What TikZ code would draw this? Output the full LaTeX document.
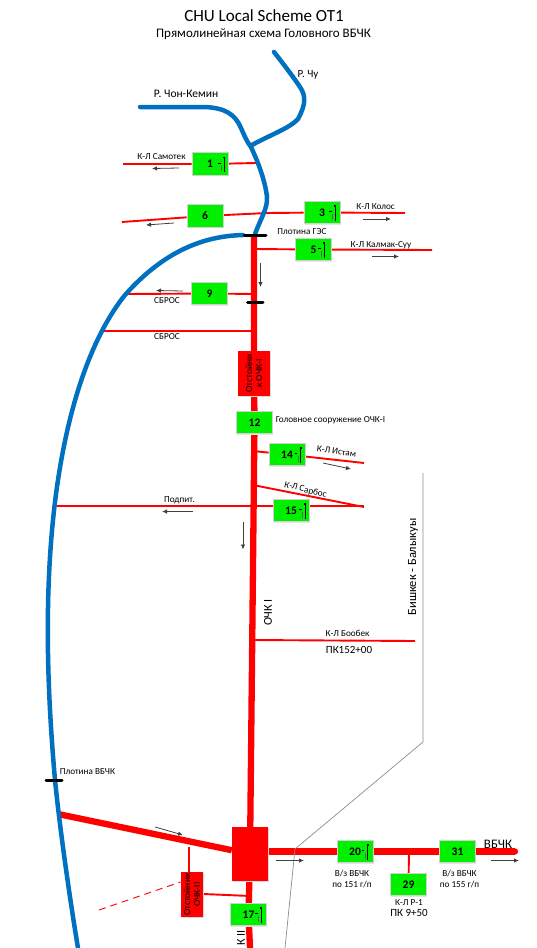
\documentclass[tikz,border=0pt]{standalone}
\usepackage{fontspec}
\setmainfont{Carlito}
\usetikzlibrary{arrows.meta,shadows}
\definecolor{rivblue}{HTML}{0070C0}
\definecolor{arrgrey}{HTML}{404040}
\definecolor{boxgreen}{HTML}{00F000}
\pgfdeclarelayer{bg}
\pgfsetlayers{bg,main}
\tikzset{
  gatebox/.style={draw=black!18,line width=.7pt,fill=boxgreen,minimum width=36pt,minimum height=22.5pt,inner sep=0pt,font=\fontsize{11.5}{12}\selectfont\bfseries,drop shadow={shadow xshift=.8pt,shadow yshift=-.8pt,fill=black!10,opacity=1}},
  redbox/.style={fill=red,inner sep=0pt,drop shadow={shadow xshift=1.2pt,shadow yshift=-1.2pt,fill=black!15,opacity=1}},
  rottext/.style={rotate=90,align=center,font=\fontsize{9.5}{10}\selectfont},
  river/.style={draw=rivblue,line width=4.5pt,line cap=round,line join=round},
  canal/.style={draw=red,line width=1.9pt},
  maincanal/.style={draw=red,line width=6.3pt},
  flowarrow/.style={draw=arrgrey,line width=.8pt,-{Latex[length=5pt,width=4.5pt]}},
  dambar/.style={draw=black,line width=3pt,line cap=round},
  road/.style={draw=black!45,line width=.7pt},
  lbl/.style={inner sep=0pt,font=\fontsize{9.2}{10}\selectfont},
  gatemark/.pic={
    \draw[black,line width=.5pt] (0,-7) -- (0,8);
    \fill[black] (-1.2,-7.5) rectangle (1.2,-6);
    \draw[black,line width=.6pt] (-6,-1) -- (-3.5,-1);
    \draw[black!60,line width=.4pt] (-3,1) -- (-3,7);
  }
}
\begin{document}
\begin{tikzpicture}[x=1pt,y=-1pt]
\useasboundingbox (0,0) rectangle (537,948);
% end points
\coordinate (samL) at (123,164);\coordinate (samR) at (256,163);
\coordinate (sixL) at (122,222);\coordinate (sixM) at (267,213);\coordinate (kolR) at (405,213);
\coordinate (kalL) at (254,249);\coordinate (kalR) at (432,250);
\coordinate (sbrL) at (127,294);\coordinate (sbrR) at (253,294);
\coordinate (sb2L) at (103,331);\coordinate (sb2R) at (253,331);
\coordinate (mainT) at (254,235);\coordinate (mainB) at (250,948);
\coordinate (istL) at (253,451);\coordinate (istR) at (364,463);
\coordinate (sarL) at (253,485);\coordinate (sarR) at (364,507);
\coordinate (podL) at (57,506);\coordinate (podR) at (364,506);
\coordinate (booL) at (252,640);\coordinate (booR) at (415,641);
\coordinate (vbL) at (58,814);
\coordinate (vbR) at (515,851.5);
\coordinate (dashE) at (99,910);
\coordinate (jOt) at (250,896);
\coordinate (jVb) at (189,847);
\coordinate (j29) at (409,852);
% boxes
\node[gatebox] (b1) at (210,164) {1};
\node[gatebox] (b6) at (205,216) {6};
\node[gatebox] (b3) at (322,212.5) {3};
\node[gatebox] (b5) at (313.5,249.5) {5};
\node[gatebox] (b9) at (209.5,293.5) {9};
\node[gatebox] (b12) at (254.5,422.5) {12};
\node[gatebox] (b14) at (287,454.5) {14};
\node[gatebox] (b15) at (291,510.5) {15};
\node[gatebox] (b17) at (248.5,914.5) {17};
\node[gatebox] (b20) at (355,851.5) {20};
\node[gatebox] (b31) at (457.5,851.5) {31};
\node[gatebox] (b29) at (408.5,884.5) {29};
\node[redbox,minimum width=32pt,minimum height=45pt] (ot1) at (254,373.5) {};
\node[rottext] at (ot1) {Отстойни\\к ОЧК-I};
\node[redbox,minimum width=36pt,minimum height=54pt] (big) at (250,854) {};
\node[redbox,minimum width=22.5pt,minimum height=45pt] (ot2) at (192,894.5) {};
\node[rottext] at (ot2) {Отстойник\\ОЧК-II};
% gate marks
\path (b1.center) ++(14,0) pic {gatemark};
\path (b3.center) ++(13,0) pic {gatemark};
\path (b5.center) ++(10.5,0) pic {gatemark};
\path (b14.center) ++(13.7,0) pic {gatemark};
\path (b15.center) ++(14,0) pic {gatemark};
\path (b17.center) ++(12.5,0) pic {gatemark};
\path (b20.center) ++(12.7,0) pic {gatemark};
\begin{pgfonlayer}{bg}
  % canals
  \draw[canal] (samL) -- (b1) -- (samR);
  \draw[canal] (sixL) -- (b6) -- (sixM) -- (b3) -- (kolR);
  \draw[canal] (kalL) -- (b5) -- (kalR);
  \draw[canal] (sbrL) -- (b9) -- (sbrR);
  \draw[canal] (sb2L) -- (sb2R);
  \draw[canal] (istL) -- (b14) -- (istR);
  \draw[canal] (sarL) -- (sarR);
  \draw[canal] (podL) -- (podR);
  \draw[canal] (booL) -- (booR);
  \draw[canal] (jVb) -- (ot2.north -| jVb);
  \draw[canal] (ot2.east) ++(0,-.5) -- (jOt);
  \draw[canal] (j29) -- (b29);
  \draw[draw=red,line width=.9pt,dashed,dash pattern=on 7pt off 5pt] (dashE) -- (ot2.west |- 0,882);
  \draw[maincanal] (mainT) -- (ot1) -- (b12) -- (big) -- (b17) -- (mainB);
  \draw[maincanal] (vbL) -- (big);
  \draw[maincanal] (big.east |- vbR) -- (b20) -- (b31) -- (vbR);
  \fill[red] (vbR) circle (3.15pt);
  % road
  \draw[road] (423,473) -- (423,742) -- (295,849) -- (285,948);
  % rivers
  \draw[river] (274,52) .. controls (285,66) and (294,78) .. (300,87) .. controls (306,96) and (306,104) .. (298,119) .. controls (290,128) and (270,135) .. (252,145);
  \draw[river] (140,107) -- (205,107) .. controls (225,108) and (235,114) .. (241,128) .. controls (245,137) and (247,142) .. (251,147) .. controls (258,162) and (265,180) .. (267,197) .. controls (268,208) and (260,220) .. (255,234);
  \draw[river] (243,235) .. controls (205,236) and (165,250) .. (125,295) .. controls (85,345) and (62,430) .. (53,520) .. controls (44,610) and (48,700) .. (55,780) .. controls (60,830) and (70,900) .. (78,948);
\end{pgfonlayer}
% dams
\draw[dambar] (244.5,235) -- (266,235);
\draw[dambar] (247.5,302) -- (263,302);
\draw[dambar] (46,780) -- (62,780);
% flow arrows
\coordinate (a1s) at (179,168);\coordinate (a1e) at (152,168.5);
\coordinate (a2s) at (174,223);\coordinate (a2e) at (146,225);
\coordinate (a3s) at (363,219);\coordinate (a3e) at (391,219);
\coordinate (a4s) at (372,256.5);\coordinate (a4e) at (399,256.5);
\coordinate (a5s) at (260.5,263);\coordinate (a5e) at (260.5,287);
\coordinate (a6s) at (183,291);\coordinate (a6e) at (156,290.5);
\coordinate (a7s) at (323,463);\coordinate (a7e) at (351,469);
\coordinate (a8s) at (193,511.5);\coordinate (a8e) at (162,511.5);
\coordinate (a9s) at (243,522);\coordinate (a9e) at (243,549.5);
\coordinate (a10s) at (155,827);\coordinate (a10e) at (183,835);
\coordinate (a11s) at (276,860.5);\coordinate (a11e) at (304,860.5);
\coordinate (a12s) at (491,860.5);\coordinate (a12e) at (519,860.5);
\foreach \n in {1,...,12} \draw[flowarrow] (a\n s) -- (a\n e);
% labels
\node[inner sep=0pt,font=\fontsize{17}{18}\selectfont] (title) at (264,16) {CHU Local Scheme OT1};
\node[inner sep=0pt,font=\fontsize{13}{14}\selectfont] (subtitle) at (263.5,34) {Прямолинейная схема Головного ВБЧК};
\node[lbl,font=\fontsize{11}{12}\selectfont] (tChu) at (308,74.5) {Р. Чу};
\node[lbl,font=\fontsize{11.5}{12}\selectfont] (tChon) at (186,94) {Р. Чон-Кемин};
\node[lbl] (tSam) at (161.5,156.5) {К-Л Самотек};
\node[lbl] (tKol) at (375.5,206.5) {К-Л Колос};
\node[lbl] (tDam1) at (302,232) {Плотина ГЭС};
\node[lbl] (tKal) at (381,245) {К-Л Калмак-Суу};
\node[lbl] (tSb1) at (167,301) {СБРОС};
\node[lbl] (tSb2) at (167,337) {СБРОС};
\node[lbl] (t12) at (330.5,420.5) {Головное сооружение ОЧК-I};
\node[lbl,rotate=-7] (tIst) at (336.5,451.5) {К-Л Истам};
\node[lbl,rotate=-14] (tSar) at (305.5,490) {К-Л Сарбос};
\node[lbl] (tPod) at (179.5,500) {Подпит.};
\node[lbl] (tBoo) at (347.5,633) {К-Л Бообек};
\node[lbl,font=\fontsize{11}{12}\selectfont] (tPk) at (349,650) {ПК152+00};
\node[lbl] (tDam2) at (87.5,772) {Плотина ВБЧК};
\node[lbl] (t20a) at (352,873) {В/з ВБЧК};
\node[lbl] (t20b) at (352,884) {по 151 г/п};
\node[lbl] (t31a) at (459.5,873) {В/з ВБЧК};
\node[lbl] (t31b) at (459.5,884) {по 155 г/п};
\node[lbl] (t29a) at (409,902.5) {К-Л Р-1};
\node[lbl,font=\fontsize{11}{12}\selectfont] (t29b) at (409,912.5) {ПК 9+50};
\node[lbl,font=\fontsize{13}{14}\selectfont] (tVb) at (498,844) {ВБЧК};
\node[lbl,font=\fontsize{12.5}{13}\selectfont,rotate=90] (tBi) at (413,567) {Бишкек - Балыкуы};
\node[lbl,font=\fontsize{12}{13}\selectfont,rotate=90] (tO1) at (268,612.5) {ОЧК I};
\node[lbl,font=\fontsize{12}{13}\selectfont,rotate=90,anchor=east] (tO2) at (241,930) {К II};
\end{tikzpicture}
\end{document}
